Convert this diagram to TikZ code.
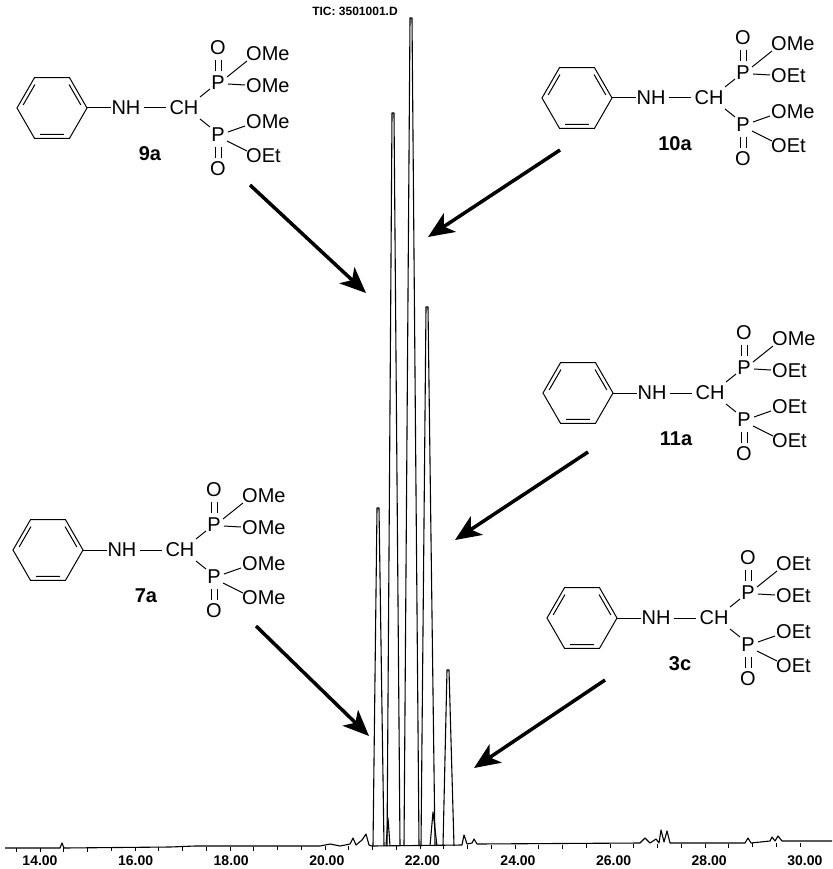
\documentclass[tikz,border=0pt]{standalone}
\usepackage{fontspec}
\setmainfont{Liberation Sans}
\usetikzlibrary{arrows.meta}
\tikzset{
  atm/.style={inner sep=0pt,font=\fontsize{20}{22}\selectfont},
  sub/.style={atm,anchor=west},
  lab/.style={inner sep=0pt,font=\fontsize{20}{22}\selectfont\bfseries},
  bond/.style={line width=1pt},
  bigarrow/.style={line width=3.5pt,-{Stealth[length=26pt,width=22pt,inset=7pt]}},
  peak/.style={line width=1.1pt,line join=round},
  axlab/.style={inner sep=0pt,font=\fontsize{14}{16}\selectfont\bfseries},
}
\newcommand\mol[8]{%
\begin{scope}[shift={(#2,#3)}]
  \draw[bond] (0:35)--(60:35)--(120:35)--(180:35)--(240:35)--(300:35)--cycle;
  \draw[bond] (66:29)--(114:29) (186:29)--(234:29) (306:29)--(354:29);
  \node[atm] (#1nh) at (74,0) {NH};
  \node[atm] (#1ch) at (132,0) {CH};
  \draw[bond] (35,0) -- (#1nh.west);
  \draw[bond] ([xshift=3pt]#1nh.east) -- ([xshift=-3pt]#1ch.west);
  \node[atm] (#1pu) at (166,-25) {P};
  \node[atm] (#1pl) at (166,27) {P};
  \node[atm] (#1ou) at (166,-60) {O};
  \node[atm] (#1ol) at (166,61) {O};
  \draw[bond] (148,-11) -- (158,-19) (148,11) -- (158,19);
  \draw[bond] (163,-37) -- (163,-48) (169,-37) -- (169,-48);
  \draw[bond] (163,39) -- (163,50) (169,39) -- (169,50);
  \node[sub] (#1s1) at (194,-54) {#4};
  \node[sub] (#1s2) at (194,-22) {#5};
  \node[sub] (#1s3) at (194,14) {#6};
  \node[sub] (#1s4) at (194,48) {#7};
  \draw[bond] (175,-31) -- (195,-47) (176,-24) -- (193,-23);
  \draw[bond] (176,24) -- (193,18) (175,33) -- (195,43);
  \node[lab] (#1lab) at (98,46) {#8};
\end{scope}}
\begin{document}
\begin{tikzpicture}[x=1pt,y=-1pt]
\useasboundingbox (0,0) rectangle (832,869);
% title
\node[inner sep=0pt,font=\fontsize{12}{14}\selectfont\bfseries] (title) at (355,11) {TIC: 3501001.D};
% baseline with noise
\draw[line width=1.1pt,line join=round] (5,848) -- (60,848) -- (62,843) -- (64,848) -- (170,847) -- (195,846)
 -- (320,846) -- (330,844) -- (340,846) -- (350,844) -- (353,838) -- (356,845) -- (362,840) -- (366,834) -- (369,845) -- (372,846)
 -- (462,845) -- (464,835) -- (467,844) -- (472,843) -- (474,839) -- (477,844) -- (640,843) -- (645,838) -- (650,843)
 -- (656,839) -- (659,843) -- (661,830) -- (664,842) -- (667,831) -- (670,843) -- (745,843) -- (748,838) -- (751,843)
 -- (770,841) -- (772,837) -- (775,841) -- (778,836) -- (782,841) -- (832,841);
% major peaks
\draw[peak] (373,846) -- (377,508) -- (379,508) -- (384,846);
\draw[peak] (386,846) -- (388,818) -- (390,846);
\draw[peak] (387,846) -- (392,113) -- (394,113) -- (400,846);
\draw[peak] (404,846) -- (410,18) -- (412,18) -- (419,846);
\draw[peak] (421,846) -- (426,307) -- (428,307) -- (435,846);
\draw[peak] (430,846) -- (433,812) -- (437,846);
\draw[peak] (443,846) -- (447,670) -- (449,670) -- (454,846);
% axis ticks and labels
\foreach \t in {0,...,33}{\draw[line width=0.8pt] ({16.25+23.75*\t},{848-0.15*\t}) -- ++(0,4);}
\foreach \v [count=\i from 0] in {14.00,16.00,18.00,20.00,22.00,24.00,26.00,28.00,30.00}
  {\node[axlab] (ax\i) at ({40+95.6*\i},861) {\v};}
% molecules
\mol{m9}{52}{108}{OMe}{OMe}{OMe}{OEt}{9a}
\mol{m10}{577}{98}{OMe}{OEt}{OMe}{OEt}{10a}
\mol{m11}{578}{393}{OMe}{OEt}{OEt}{OEt}{11a}
\mol{m7}{48}{550}{OMe}{OMe}{OMe}{OMe}{7a}
\mol{m3}{582}{618}{OEt}{OEt}{OEt}{OEt}{3c}
% arrows
\coordinate (t9) at (366,293);
\coordinate (t10) at (428,237);
\coordinate (t11) at (455,540);
\coordinate (t7) at (369,736);
\coordinate (t3) at (474,768);
\coordinate (f9) at (250,185);
\coordinate (f10) at (560,150);
\coordinate (f11) at (588,452);
\coordinate (f7) at (256,626);
\coordinate (f3) at (605,680);
\draw[bigarrow] (f9) -- (t9);
\draw[bigarrow] (f10) -- (t10);
\draw[bigarrow] (f11) -- (t11);
\draw[bigarrow] (f7) -- (t7);
\draw[bigarrow] (f3) -- (t3);
\end{tikzpicture}
\end{document}
